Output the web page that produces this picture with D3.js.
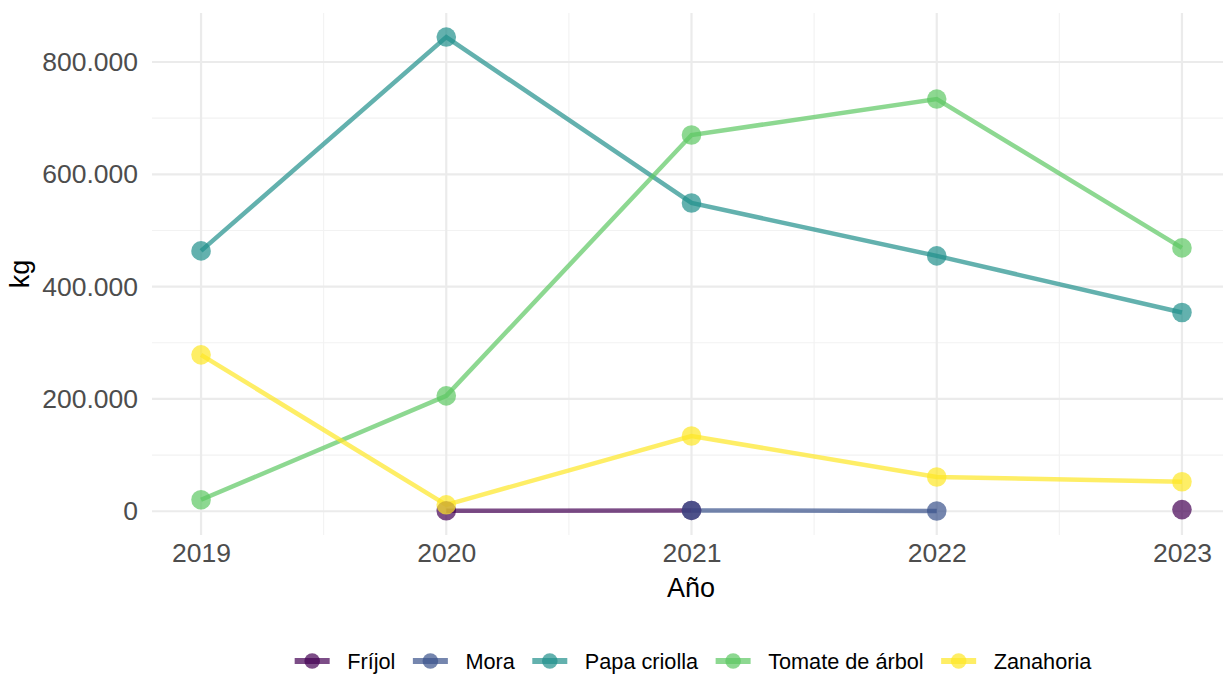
<!DOCTYPE html>
<html>
<head>
<meta charset="utf-8">
<script src="https://cdn.jsdelivr.net/npm/d3@7"></script>
<style>
  html, body { margin: 0; padding: 0; background: #fff; }
  svg { display: block; }
  text { font-family: "Liberation Sans", Arial, sans-serif; }
</style>
</head>
<body>
<svg id="chart" width="1223" height="675"></svg>
<script>
const years = [2019, 2020, 2021, 2022, 2023];
const seriesNames = ["Fríjol", "Mora", "Papa criolla", "Tomate de árbol", "Zanahoria"];
const frijol = [null, 1000, 1500, null, 3000];
const mora = [null, null, 1500, 500, null];
const papaCriolla = [463600, 844400, 549000, 454700, 354000];
const tomateArbol = [20500, 205500, 670000, 734000, 469000];
const zanahoria = [278500, 11500, 134000, 61000, 52500];
const yTicks = [0, 200000, 400000, 600000, 800000];
const yMinor = [100000, 300000, 500000, 700000];
const xMinor = [2019.5, 2020.5, 2021.5, 2022.5];
const colors = ["#440154", "#3B528B", "#21908C", "#5DC863", "#FDE725"];

const seriesValues = [frijol, mora, papaCriolla, tomateArbol, zanahoria];
const series = seriesNames.map((name, i) => ({
  name, color: colors[i],
  points: years.map((y, j) => ({ year: y, value: seriesValues[i][j] }))
}));

const svg = d3.select("#chart");
const panel = { left: 152, right: 1231, top: 13, bottom: 535 };

const x = d3.scaleLinear().domain([2018.8, 2023.2]).range([panel.left, panel.right]);
const y = d3.scaleLinear().domain([-42250, 887250]).range([panel.bottom, panel.top]);

const grid = svg.append("g");
grid.selectAll(".ymin").data(yMinor).join("line")
  .attr("x1", panel.left).attr("x2", panel.right)
  .attr("y1", d => y(d)).attr("y2", d => y(d))
  .attr("stroke", "#F2F2F2").attr("stroke-width", 1.1);
grid.selectAll(".xmin").data(xMinor).join("line")
  .attr("y1", panel.top).attr("y2", panel.bottom)
  .attr("x1", d => x(d)).attr("x2", d => x(d))
  .attr("stroke", "#F2F2F2").attr("stroke-width", 1.1);
grid.selectAll(".ymaj").data(yTicks).join("line")
  .attr("x1", panel.left).attr("x2", panel.right)
  .attr("y1", d => y(d)).attr("y2", d => y(d))
  .attr("stroke", "#EBEBEB").attr("stroke-width", 2.2);
grid.selectAll(".xmaj").data(years).join("line")
  .attr("y1", panel.top).attr("y2", panel.bottom)
  .attr("x1", d => x(d)).attr("x2", d => x(d))
  .attr("stroke", "#EBEBEB").attr("stroke-width", 2.2);

const fmt = v => v === 0 ? "0" : d3.format(",")(v).replace(/,/g, ".");
const yAxis = svg.append("g").attr("transform", `translate(${panel.left},0)`)
  .call(d3.axisLeft(y).tickValues(yTicks).tickFormat(fmt).tickSize(0).tickPadding(14));
yAxis.select(".domain").remove();
yAxis.selectAll("text").attr("font-size", 26.5).attr("fill", "#4D4D4D")
  .attr("font-family", "Liberation Sans, Arial, sans-serif");

const xAxis = svg.append("g").attr("transform", `translate(0,${panel.bottom})`)
  .call(d3.axisBottom(x).tickValues(years).tickFormat(d3.format("d")).tickSize(0).tickPadding(8));
xAxis.select(".domain").remove();
xAxis.selectAll("text").attr("font-size", 26.5).attr("fill", "#4D4D4D")
  .attr("font-family", "Liberation Sans, Arial, sans-serif");

svg.append("text").attr("x", 691).attr("y", 597).attr("text-anchor", "middle")
  .attr("font-size", 27).attr("fill", "#000").text("Año");
svg.append("text").attr("transform", "translate(29,274) rotate(-90)")
  .attr("text-anchor", "middle").attr("font-size", 27).attr("fill", "#000").text("kg");

const line = d3.line().defined(d => d.value !== null).x(d => x(d.year)).y(d => y(d.value));
const plot = svg.append("g");
plot.selectAll(".ln").data(series).join("path")
  .attr("d", d => line(d.points))
  .attr("fill", "none").attr("stroke", d => d.color)
  .attr("stroke-opacity", 0.7).attr("stroke-width", 4.5);

series.forEach(s => {
  plot.append("g").selectAll("circle").data(s.points.filter(p => p.value !== null)).join("circle")
    .attr("cx", d => x(d.year)).attr("cy", d => y(d.value)).attr("r", 9.8)
    .attr("fill", s.color).attr("fill-opacity", 0.7);
});

const legend = svg.append("g");
const fontSize = 21.7;
const keyW = 35, keyGap = 17.5, itemGap = 17.5;
const tmp = legend.append("text").attr("font-size", fontSize);
const widths = seriesNames.map(n => { tmp.text(n); return tmp.node().getComputedTextLength(); });
tmp.remove();
const total = d3.sum(widths) + seriesNames.length * (keyW + keyGap) + (seriesNames.length - 1) * itemGap;
let cx = 693 - total / 2;
const ly = 661;
series.forEach((s, i) => {
  const g = legend.append("g");
  g.append("line").attr("x1", cx).attr("x2", cx + keyW).attr("y1", ly).attr("y2", ly)
    .attr("stroke", s.color).attr("stroke-opacity", 0.7).attr("stroke-width", 6);
  g.append("circle").attr("cx", cx + keyW / 2).attr("cy", ly).attr("r", 7.8)
    .attr("fill", s.color).attr("fill-opacity", 0.7);
  g.append("text").attr("x", cx + keyW + keyGap).attr("y", ly + 7.5)
    .attr("font-size", fontSize).attr("fill", "#000").text(s.name);
  cx += keyW + keyGap + widths[i] + itemGap;
});
</script>
</body>
</html>
